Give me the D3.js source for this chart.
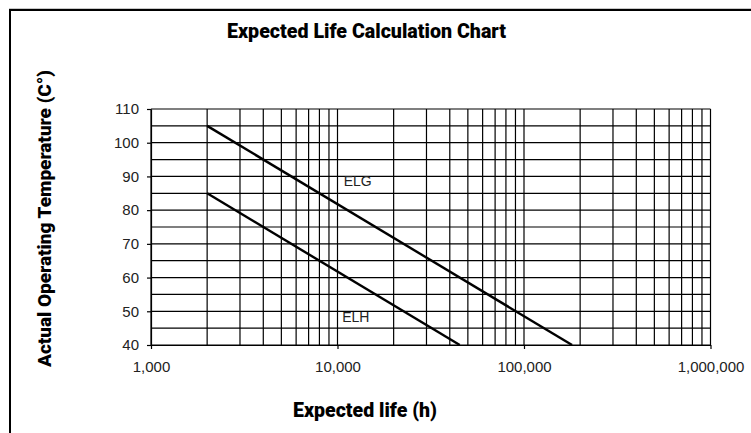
<!DOCTYPE html>
<html>
<head>
<meta charset="utf-8">
<script src="https://cdn.jsdelivr.net/npm/d3@7"></script>
<style>
  body { margin: 0; background: #fff; }
  svg { display: block; }
</style>
</head>
<body>
<div id="chart"></div>
<script>
// hours vs temperature
const elgLife = [2000, 181000]
const elgTemp = [105, 40]
const elhLife = [2000, 45250]
const elhTemp = [85, 40]

const xTicks = [1000, 10000, 100000, 1000000]
const yTicks = [40, 50, 60, 70, 80, 90, 100, 110]
const yGrid = [40, 45, 50, 55, 60, 65, 70, 75, 80, 85, 90, 95, 100, 105, 110]

const W = 751, H = 433

const svg = d3.select("#chart").append("svg")
    .attr("width", W)
    .attr("height", H)

// outer frame
svg.append("line").attr("x1", 9).attr("x2", W).attr("y1", 8.5).attr("y2", 8.5)
    .attr("stroke", "#c8c8c8").attr("stroke-width", 1)
svg.append("path")
    .attr("d", "M10," + H + "V10H" + W)
    .attr("fill", "none").attr("stroke", "#000").attr("stroke-width", 2)

const x = d3.scaleLog().domain([1000, 1000000]).range([151, 710.5])
const y = d3.scaleLinear().domain([40, 110]).range([345, 109])

// grid
let grid = svg.append("g").attr("stroke", "#000").attr("stroke-width", 1.2)
grid.selectAll(".v").data(x.ticks()).join("line")
    .attr("x1", d => x(d)).attr("x2", d => x(d))
    .attr("y1", y(40)).attr("y2", y(110))
grid.selectAll(".h").data(yGrid).join("line")
    .attr("x1", x(1000)).attr("x2", x(1000000))
    .attr("y1", d => y(d)).attr("y2", d => y(d))

// axes
let xAxis = svg.append("g")
    .attr("transform", "translate(0," + y(40) + ")")
    .call(d3.axisBottom(x).tickValues(xTicks).tickFormat(d3.format(",")).tickSize(4).tickSizeOuter(0).tickPadding(12))
let yAxis = svg.append("g")
    .attr("transform", "translate(" + x(1000) + ",0)")
    .call(d3.axisLeft(y).tickValues(yTicks).tickSize(4).tickSizeOuter(0).tickPadding(8))

svg.selectAll(".domain").attr("stroke", "#000").attr("stroke-width", 1.2)
svg.selectAll(".tick line").attr("stroke", "#000").attr("stroke-width", 1.2)
svg.selectAll(".tick text")
    .attr("font-family", "'Liberation Sans', Arial, sans-serif")
    .attr("font-size", 15)
    .attr("fill", "#222")

// life lines
const line = d3.line().x(d => x(d[0])).y(d => y(d[1]))
const series = [d3.zip(elgLife, elgTemp), d3.zip(elhLife, elhTemp)]
svg.selectAll(".life").data(series).join("path")
    .attr("class", "life")
    .attr("d", line)
    .attr("fill", "none")
    .attr("stroke", "#000")
    .attr("stroke-width", 2.4)

// series labels
const labelFont = "'Liberation Sans', Arial, sans-serif"
svg.append("text").attr("x", x(10800)).attr("y", y(87.3))
    .attr("font-family", labelFont).attr("font-size", 14).attr("fill", "#222")
    .text("ELG")
svg.append("text").attr("x", x(10600)).attr("y", y(46.9))
    .attr("font-family", labelFont).attr("font-size", 14).attr("fill", "#222")
    .text("ELH")

// titles
const titleFont = "Roboto, 'Noto Sans', sans-serif"
svg.append("text")
    .attr("x", 227).attr("y", 38)
    .attr("font-family", titleFont).attr("font-weight", 900).attr("font-size", 21)
    .attr("textLength", 279).attr("lengthAdjust", "spacingAndGlyphs")
    .text("Expected Life Calculation Chart")

svg.append("text")
    .attr("x", 293).attr("y", 417)
    .attr("font-family", titleFont).attr("font-weight", 900).attr("font-size", 19.5)
    .attr("textLength", 144).attr("lengthAdjust", "spacingAndGlyphs")
    .text("Expected life (h)")

svg.append("text")
    .attr("transform", "translate(51,367) rotate(-90)")
    .attr("font-family", titleFont).attr("font-weight", 900).attr("font-size", 19)
    .attr("textLength", 297).attr("lengthAdjust", "spacingAndGlyphs")
    .text("Actual Operating Temperature (C°)")
</script>
</body>
</html>
